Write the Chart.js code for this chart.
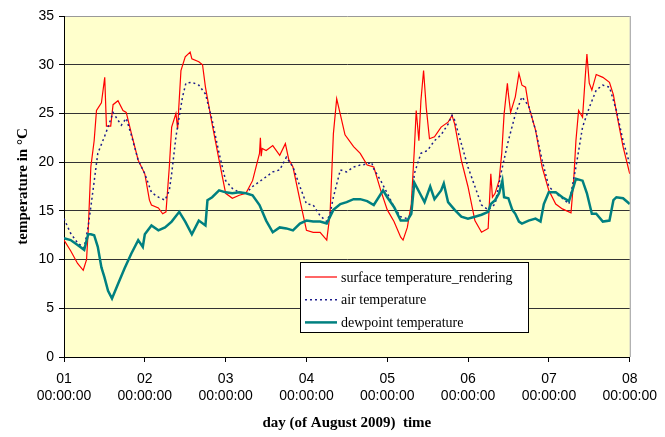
<!DOCTYPE html>
<html>
<head>
<meta charset="utf-8">
<script src="https://cdn.jsdelivr.net/npm/chart.js@4.4.0/dist/chart.umd.min.js"></script>
<style>
  html, body { margin: 0; padding: 0; background: #ffffff; }
  #tempChart { display: block; }
</style>
</head>
<body>
<canvas id="tempChart" width="665" height="437"></canvas>
<script>
// x values are days since 01 Aug 2009 00:00:00
const dayLabels = ['01', '02', '03', '04', '05', '06', '07', '08'];
const timeLabel = '00:00:00';

const surfaceDays = [0, 0.082, 0.168, 0.238, 0.279, 0.299, 0.332, 0.373, 0.402, 0.463, 0.504, 0.525, 0.578, 0.607, 0.668, 0.730, 0.770, 0.832, 0.918, 1.0,
    1.057, 1.082, 1.168, 1.221, 1.262, 1.303, 1.332, 1.385, 1.406, 1.418, 1.447, 1.5, 1.561, 1.582, 1.668, 1.714, 1.75, 1.833, 1.919, 2.0,
    2.083, 2.169, 2.251, 2.333, 2.419, 2.43, 2.44, 2.452, 2.501, 2.583, 2.669, 2.739, 2.78, 2.833, 2.919, 3.0, 3.083, 3.169, 3.251, 3.292,
    3.333, 3.374, 3.419, 3.477, 3.583, 3.665, 3.751, 3.833, 3.919, 4.0, 4.083, 4.166, 4.195, 4.248, 4.297, 4.334, 4.358, 4.391, 4.416, 4.449,
    4.482, 4.522, 4.584, 4.666, 4.752, 4.801, 4.834, 4.916, 4.998, 5.084, 5.166, 5.248, 5.281, 5.301, 5.334, 5.383, 5.416, 5.445, 5.486, 5.498,
    5.526, 5.584, 5.629, 5.666, 5.711, 5.748, 5.834, 5.916, 5.998, 6.084, 6.166, 6.273, 6.306, 6.334, 6.367, 6.416, 6.449, 6.470, 6.499, 6.531,
    6.585, 6.667, 6.749, 6.798, 6.835, 6.917, 7.0];
const surfaceTemp = [12.0, 10.9, 9.6, 8.9, 10.0, 12.9, 19.5, 22.2, 25.3, 26.1, 28.7, 23.7, 23.7, 25.9, 26.3, 25.3, 25.1, 23.0, 20.2, 18.8,
    16.1, 15.6, 15.3, 14.7, 14.9, 19.5, 23.6, 25.0, 23.4, 25.3, 29.4, 30.8, 31.3, 30.6, 30.3, 30.0, 27.7, 23.9, 20.2, 16.8,
    16.3, 16.6, 16.8, 18.1, 20.9, 22.5, 20.6, 21.4, 21.2, 21.7, 20.7, 21.9, 20.3, 19.5, 16.1, 13.0, 12.8, 12.8, 12.0, 14.7,
    22.9, 26.5, 24.9, 22.8, 21.6, 20.9, 19.7, 19.5, 17.1, 15.1, 13.9, 12.3, 12.0, 13.3, 15.7, 21.2, 25.3, 22.2, 26.3, 29.4,
    25.6, 22.4, 22.6, 23.6, 24.1, 24.8, 23.9, 20.2, 17.5, 14.0, 12.8, 13.2, 18.8, 16.4, 16.8, 18.1, 20.9, 24.9, 28.1, 27.0,
    25.1, 26.7, 29.1, 27.9, 27.7, 25.8, 23.3, 19.5, 17.1, 15.7, 15.2, 14.8, 18.1, 22.2, 25.3, 24.6, 28.7, 31.1, 28.1, 27.4,
    29.0, 28.7, 28.2, 26.9, 25.1, 21.6, 18.8];

const airDays = [0, 0.082, 0.168, 0.25, 0.299, 0.332, 0.373, 0.418, 0.5, 0.545, 0.607, 0.668, 0.709, 0.770, 0.832, 0.918, 1.0, 1.082, 1.168, 1.25,
    1.303, 1.332, 1.385, 1.418, 1.467, 1.508, 1.582, 1.668, 1.75, 1.833, 1.919, 2.0, 2.083, 2.169, 2.251, 2.333, 2.419, 2.501, 2.583, 2.669,
    2.751, 2.833, 2.919, 3.0, 3.083, 3.169, 3.251, 3.292, 3.333, 3.419, 3.497, 3.583, 3.665, 3.751, 3.805, 3.833, 3.919, 4.0, 4.083, 4.166,
    4.248, 4.297, 4.334, 4.416, 4.498, 4.584, 4.666, 4.752, 4.801, 4.834, 4.916, 4.998, 5.084, 5.166, 5.248, 5.334, 5.416, 5.498, 5.584, 5.666,
    5.748, 5.834, 5.916, 5.998, 6.084, 6.166, 6.248, 6.334, 6.416, 6.499, 6.585, 6.667, 6.749, 6.835, 6.917, 7.0];
const airTemp = [14.2, 12.7, 11.7, 11.2, 13.4, 15.4, 18.0, 20.9, 22.6, 23.6, 25.1, 24.3, 23.8, 24.5, 22.8, 20.2, 18.8, 16.9, 16.4, 16.1,
    17.1, 18.8, 22.6, 24.3, 26.7, 28.1, 28.2, 27.9, 27.0, 24.3, 20.9, 18.1, 17.3, 16.9, 16.8, 17.5, 18.0, 18.5, 19.0, 19.2,
    20.5, 19.5, 17.5, 15.7, 15.6, 14.5, 13.9, 14.7, 16.4, 19.2, 19.0, 19.5, 19.7, 19.8, 20.0, 19.3, 18.1, 16.8, 15.4, 14.4,
    14.2, 14.7, 18.8, 20.9, 21.2, 22.2, 22.8, 23.9, 24.8, 24.3, 21.9, 19.5, 17.5, 15.6, 15.1, 15.7, 19.2, 22.2, 24.9, 26.7,
    25.8, 23.3, 20.2, 17.5, 16.8, 16.3, 15.7, 19.5, 23.6, 25.6, 27.4, 27.9, 27.7, 25.3, 22.2, 19.8];

const dewDays = [0, 0.082, 0.168, 0.25, 0.299, 0.332, 0.373, 0.418, 0.463, 0.5, 0.545, 0.594, 0.668, 0.75, 0.832, 0.918, 0.975, 1.0, 1.082, 1.168,
    1.25, 1.332, 1.426, 1.5, 1.582, 1.668, 1.75, 1.775, 1.833, 1.919, 2.0, 2.083, 2.169, 2.251, 2.333, 2.419, 2.501, 2.583, 2.669, 2.751,
    2.833, 2.919, 3.0, 3.083, 3.169, 3.251, 3.333, 3.419, 3.497, 3.583, 3.665, 3.751, 3.833, 3.948, 4.0, 4.083, 4.166, 4.248, 4.297, 4.334,
    4.416, 4.461, 4.531, 4.584, 4.666, 4.699, 4.752, 4.834, 4.916, 4.998, 5.084, 5.166, 5.248, 5.281, 5.334, 5.383, 5.424, 5.445, 5.498, 5.547,
    5.584, 5.629, 5.666, 5.748, 5.834, 5.896, 5.937, 5.998, 6.084, 6.166, 6.248, 6.306, 6.334, 6.416, 6.470, 6.531, 6.585, 6.667, 6.749, 6.798,
    6.835, 6.917, 7.0];
const dewTemp = [12.2, 12.0, 11.5, 11.0, 12.6, 12.6, 12.5, 11.3, 9.2, 8.2, 6.8, 6.0, 7.5, 9.1, 10.6, 12.0, 11.3, 12.6, 13.5, 13.0,
    13.3, 13.9, 14.9, 13.9, 12.6, 14.0, 13.5, 16.1, 16.4, 17.1, 16.9, 16.8, 16.9, 16.8, 16.6, 15.6, 14.0, 12.8, 13.3, 13.2,
    13.0, 13.7, 14.0, 13.9, 13.9, 13.7, 15.1, 15.7, 15.9, 16.2, 16.2, 16.0, 15.6, 17.1, 16.4, 15.4, 14.0, 14.0, 14.7, 17.9,
    16.6, 15.9, 17.5, 16.2, 17.1, 17.8, 15.9, 15.1, 14.4, 14.2, 14.4, 14.6, 14.9, 15.7, 16.1, 16.8, 18.1, 16.4, 16.3, 15.1,
    14.7, 13.9, 13.7, 14.0, 14.2, 13.9, 15.7, 16.9, 16.9, 16.4, 16.0, 17.5, 18.3, 18.1, 16.8, 14.7, 14.7, 13.9, 14.0, 16.1,
    16.4, 16.3, 15.7];

function toPoints(days, temps) {
    return days.map((d, i) => ({ x: d, y: temps[i] }));
}

const plotBackground = {
    id: 'plotBackground',
    beforeDraw(chart) {
        const { ctx, chartArea: a } = chart;
        ctx.save();
        ctx.fillStyle = '#ffffff';
        ctx.fillRect(0, 0, chart.width, chart.height);
        ctx.fillStyle = '#ffffcc';
        ctx.fillRect(a.left, a.top, a.right - a.left, a.bottom - a.top);
        ctx.restore();
    },
    beforeDatasetsDraw(chart) {
        const { ctx, chartArea: a } = chart;
        ctx.save();
        ctx.strokeStyle = '#999999';
        ctx.lineWidth = 1;
        ctx.beginPath();
        ctx.moveTo(a.right + 0.5, a.top);
        ctx.lineTo(a.right + 0.5, a.bottom);
        ctx.stroke();
        ctx.restore();
    }
};

// legend box sits inside the plot, like the Excel original
const boxLegend = {
    id: 'boxLegend',
    afterDraw(chart) {
        const ctx = chart.ctx;
        const x = 300.5, y = 262.5, w = 228, h = 70;
        ctx.save();
        ctx.fillStyle = '#ffffff';
        ctx.fillRect(x, y, w, h);
        ctx.strokeStyle = '#000000';
        ctx.lineWidth = 1;
        ctx.strokeRect(x, y, w, h);
        ctx.font = '14px "Liberation Serif", "Times New Roman", serif';
        ctx.textBaseline = 'middle';
        ctx.fillStyle = '#000000';
        chart.data.datasets.forEach((ds, i) => {
            const rowY = 277 + i * 22.7;
            ctx.save();
            ctx.strokeStyle = ds.borderColor;
            ctx.lineWidth = ds.borderWidth;
            ctx.setLineDash(ds.borderDash || []);
            ctx.beginPath();
            ctx.moveTo(305, rowY);
            ctx.lineTo(337, rowY);
            ctx.stroke();
            ctx.restore();
            ctx.fillText(ds.label, 341, rowY + 1);
        });
        ctx.restore();
    }
};

new Chart(document.getElementById('tempChart'), {
    type: 'line',
    data: {
        datasets: [
            {
                label: 'surface temperature_rendering',
                data: toPoints(surfaceDays, surfaceTemp),
                borderColor: '#ff0000',
                borderWidth: 1.2,
                order: 3
            },
            {
                label: 'air temperature',
                data: toPoints(airDays, airTemp),
                borderColor: '#1c1c8c',
                borderWidth: 1.5,
                borderDash: [2, 3],
                order: 2
            },
            {
                label: 'dewpoint temperature',
                data: toPoints(dewDays, dewTemp),
                borderColor: '#008080',
                borderWidth: 2.5,
                order: 1
            }
        ]
    },
    options: {
        responsive: false,
        animation: false,
        elements: { point: { radius: 0 }, line: { tension: 0, fill: false } },
        layout: { padding: { top: 16, right: 32, bottom: 0, left: 0 } },
        plugins: {
            legend: { display: false },
            tooltip: { enabled: false }
        },
        scales: {
            x: {
                type: 'linear',
                min: 0,
                max: 7,
                afterFit: s => { s.height = 80; },
                ticks: {
                    stepSize: 1,
                    autoSkip: false,
                    maxRotation: 0,
                    padding: 8,
                    color: '#000000',
                    font: { family: '"Liberation Sans", Arial, sans-serif', size: 14, lineHeight: 1.25 },
                    callback: v => [dayLabels[v], timeLabel]
                },
                grid: { drawOnChartArea: false, drawTicks: true, tickLength: 5, tickColor: '#000000' },
                border: { color: '#000000', width: 1 },
                title: {
                    display: true,
                    text: 'day (of August 2009)  time',
                    color: '#000000',
                    font: { family: '"Liberation Serif", "Times New Roman", serif', size: 15, weight: 'bold' },
                    padding: { top: 0, bottom: 5 }
                }
            },
            y: {
                min: 0,
                max: 35,
                afterFit: s => { s.width = 64; },
                ticks: {
                    stepSize: 5,
                    padding: 5,
                    color: '#000000',
                    font: { family: '"Liberation Sans", Arial, sans-serif', size: 14 }
                },
                grid: {
                    color: ctx => ctx.tick && ctx.tick.value === 35 ? '#999999' : '#333333',
                    lineWidth: 1,
                    tickLength: 5,
                    tickColor: '#000000'
                },
                border: { color: '#000000', width: 1 },
                title: {
                    display: true,
                    text: 'temperature in °C',
                    color: '#000000',
                    font: { family: '"Liberation Serif", "Times New Roman", serif', size: 15, weight: 'bold' },
                    padding: { top: 14, bottom: 0 }
                }
            }
        }
    },
    plugins: [plotBackground, boxLegend]
});
</script>
</body>
</html>
